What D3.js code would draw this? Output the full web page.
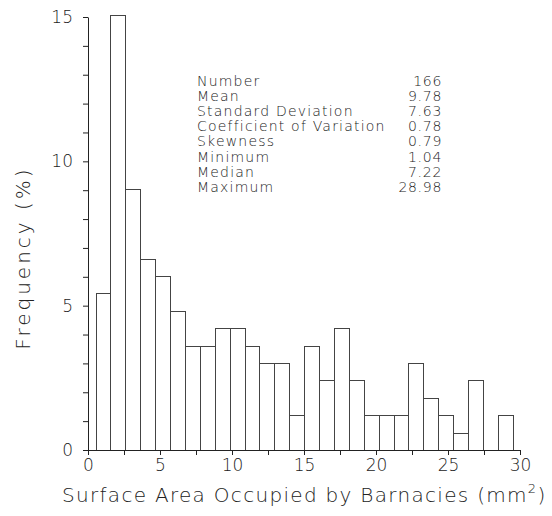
<!DOCTYPE html>
<html>
<head>
<meta charset="utf-8">
<script src="https://cdn.jsdelivr.net/npm/d3@7"></script>
<style>
  html, body { margin: 0; padding: 0; background: #fff; }
  svg { display: block; }
  text { font-family: "DejaVu Sans", sans-serif; font-weight: 200; fill: #222; }
</style>
</head>
<body>
<svg id="chart" width="552" height="516"></svg>
<script>
// ---- data ----
// frequency (%) per bin, n = 166 (each count = 0.602 %)
const binCounts = [9, 25, 15, 11, 10, 8, 6, 6, 7, 7, 6, 5, 5, 2, 6, 4, 7, 4, 2, 2, 2, 5, 3, 2, 1, 4, 0, 2];
const statLabels = ["Number", "Mean", "Standard Deviation", "Coefficient of Variation", "Skewness", "Minimum", "Median", "Maximum"];
const statValues = ["166", "9.78", "7.63", "0.78", "0.79", "1.04", "7.22", "28.98"];
const sampleSize = 166;
const minValue = 1.04;
const maxValue = 28.98;
const xTickValues = [0, 2.5, 5, 7.5, 10, 12.5, 15, 17.5, 20, 22.5, 25, 27.5, 30];
const yTickValues = [0, 1, 2, 3, 4, 5, 6, 7, 8, 9, 10, 11, 12, 13, 14, 15];
const xTitle = "Surface Area Occupied by Barnacies (mm";
const yTitle = "Frequency (%)";

// bins are centred on min..max, one bin per step of (max-min)/(nBins-1)
const nBins = binCounts.length;
const binWidth = (maxValue - minValue) / (nBins - 1);
const bins = binCounts.map((c, i) => ({
  x0: minValue - binWidth / 2 + i * binWidth,
  x1: minValue + binWidth / 2 + i * binWidth,
  pct: c / sampleSize * 100
}));

// ---- layout ----
const svg = d3.select("#chart");
const x = d3.scaleLinear().domain([0, 30]).range([88, 520]);
const y = d3.scaleLinear().domain([0, 15]).range([450, 17]);

// bars (outlines)
svg.append("g")
  .selectAll("rect")
  .data(bins)
  .join("rect")
  .attr("x", d => Math.round(x(d.x0)) + 0.5)
  .attr("y", d => Math.round(y(d.pct)) + 0.5)
  .attr("width", d => Math.round(x(d.x1)) - Math.round(x(d.x0)))
  .attr("height", d => Math.round(y(0)) - Math.round(y(d.pct)))
  .attr("fill", "none")
  .attr("stroke", "#444")
  .attr("stroke-width", 1);

// x axis
const xAxis = svg.append("g")
  .attr("transform", `translate(0,${y(0)})`)
  .call(d3.axisBottom(x)
    .tickValues(xTickValues)
    .tickSize(5)
    .tickSizeOuter(0)
    .tickPadding(4)
    .tickFormat(d => d % 5 === 0 ? d3.format("d")(d) : ""));
xAxis.selectAll("path, line").attr("stroke", "#222");
xAxis.selectAll("text").attr("font-size", 17).attr("font-family", "DejaVu Sans").attr("fill", "#222");

// y axis
const yAxis = svg.append("g")
  .attr("transform", `translate(${x(0)},0)`)
  .call(d3.axisLeft(y)
    .tickValues(yTickValues)
    .tickSize(5)
    .tickSizeOuter(0)
    .tickPadding(10)
    .tickFormat(d => d % 5 === 0 ? d3.format("d")(d) : ""));
yAxis.selectAll("path, line").attr("stroke", "#222");
yAxis.selectAll("text").attr("font-size", 17).attr("font-family", "DejaVu Sans").attr("fill", "#222");

// axis titles
const xt = svg.append("text")
  .attr("x", 62).attr("y", 502)
  .attr("font-size", 20)
  .attr("letter-spacing", 1.3);
xt.append("tspan").text(xTitle);
xt.append("tspan").attr("font-size", 13).attr("dy", -9).text("2");
xt.append("tspan").attr("dy", 9).text(")");

svg.append("text")
  .attr("transform", "translate(30,258) rotate(-90)")
  .attr("text-anchor", "middle")
  .attr("font-size", 20)
  .attr("letter-spacing", 3)
  .text(yTitle);

// statistics block
const statsG = svg.append("g");
statsG.selectAll("text.lab")
  .data(statLabels)
  .join("text")
  .attr("class", "lab")
  .attr("x", 197)
  .attr("y", (d, i) => 86 + i * 15.1)
  .attr("font-size", 14)
  .attr("letter-spacing", 1.2)
  .text(d => d);
statsG.selectAll("text.val")
  .data(statValues)
  .join("text")
  .attr("class", "val")
  .attr("x", 442)
  .attr("y", (d, i) => 86 + i * 15.1)
  .attr("text-anchor", "end")
  .attr("font-size", 14)
  .attr("letter-spacing", 0.7)
  .text(d => d);
</script>
</body>
</html>
